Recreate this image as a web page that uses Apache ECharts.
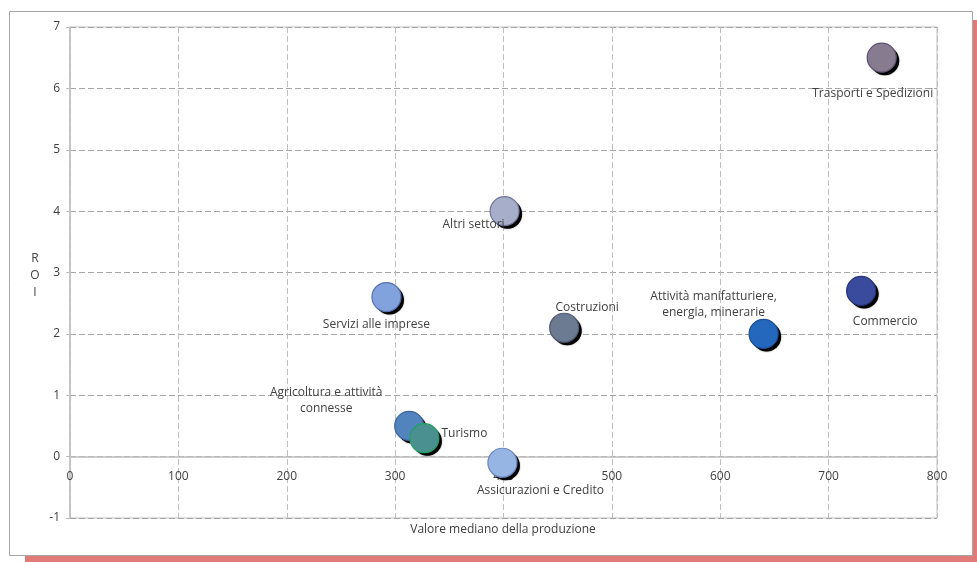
<!DOCTYPE html>
<html><head><meta charset="utf-8">
<script src="https://cdn.jsdelivr.net/npm/echarts@6/dist/echarts.min.js"></script>
<style>html,body{margin:0;padding:0;background:#fff}#c{width:977px;height:562px}</style>
</head><body><div id="c"></div>
<script>
const sectors = ["Trasporti e Spedizioni","Altri settori","Servizi alle imprese","Costruzioni","Attività manifatturiere,\nenergia, minerarie","Commercio","Agricoltura e attività\nconnesse","Turismo","Assicurazioni e Credito"];
const produzione = [749, 401, 292, 456, 640, 730, 313, 327, 399];
const roi = [6.5, 4.0, 2.6, 2.1, 2.0, 2.7, 0.5, 0.3, -0.1];
const xTicks = [0,100,200,300,400,500,600,700,800];
const yTicks = [-1,0,1,2,3,4,5,6,7];

const fills = ["#877b90","#a6aec9","#82a2dd","#6c7a92","#2468bd","#3a4a9c","#5183bd","#4a9090","#96b5e2"];
const strokes = ["#5b5070","#6e7698","#5571b0","#4d5870","#1a4e95","#26337a","#3a6399","#22a060","#6a88bf"];
const labelOffsets = [[-9,36],[-31,13],[-10,28],[23,-20],[-50,-29],[24,31],[-83,-25],[40,-5],[38,28]];

const FONT = "'Open Sans', sans-serif";
const chart = echarts.init(document.getElementById('c'), null, {renderer:'canvas'});
const points = sectors.map((s,i)=>[produzione[i], roi[i]]);
const shadowData = sectors.map((s,i)=>({name:s, value:points[i]}));
const data = sectors.map((s,i)=>({
  name: s,
  value: points[i],
  itemStyle: {color: fills[i], borderColor: strokes[i], borderWidth: 1.2, opacity: 1},
  label: {offset: labelOffsets[i]}
}));
chart.setOption({
  animation:false,
  backgroundColor:'#fff',
  graphic:[
    {type:'rect', shape:{x:25,y:20,width:952,height:542}, style:{fill:'#e07b78'}, z:-10},
    {type:'rect', shape:{x:9.5,y:11.5,width:963,height:544}, style:{fill:'#fff', stroke:'#a6a6a6', lineWidth:1}, z:-9},
    {type:'text', x:35, y:250, style:{text:'R\nO\nI', font:"12px "+FONT, fill:'#404040', lineHeight:17, align:'center'}},
    {type:'text', x:503, y:524, style:{text:'Valore mediano della produzione', font:"12px "+FONT, fill:'#404040', align:'center'}}
  ],
  grid:{left:70, right:40, top:27, bottom:44, show:true, borderColor:'#bfbfbf', borderWidth:1},
  xAxis:{
    type:'value', min:0, max:800, interval:100, offset:-61.375,
    axisLine:{show:true, onZero:false, lineStyle:{color:'#bfbfbf', width:1.5}},
    axisTick:{show:false},
    axisLabel:{color:'#404040', fontSize:12, fontFamily:FONT, margin:14,
      formatter:v=> xTicks.includes(v)? String(v):''},
    splitLine:{show:true, lineStyle:{color:'#bfbfbf', type:[6,3]}}
  },
  yAxis:{
    type:'value', min:-1, max:7, interval:1,
    axisLine:{show:true, onZero:false, lineStyle:{color:'#bfbfbf', width:1.5}},
    axisTick:{show:true, length:4, lineStyle:{color:'#bfbfbf'}},
    axisLabel:{color:'#404040', fontSize:12, fontFamily:FONT, margin:10,
      formatter:v=> yTicks.includes(v)? String(v):''},
    splitLine:{show:true, lineStyle:{color:'#a6a6a6', type:[6,3]}}
  },
  series:[{
    type:'scatter', symbolSize:29, symbolOffset:[3,3], data:shadowData, z:2,
    itemStyle:{color:'#000', opacity:1, shadowColor:'rgba(0,0,0,0.6)', shadowBlur:1.5},
    label:{show:false}, silent:true, emphasis:{disabled:true}
  },{
    type:'scatter', symbolSize:29, data:data, z:3,
    label:{show:true, position:'inside', formatter:p=>p.name, color:'#404040',
      fontSize:12, fontFamily:FONT, lineHeight:16, align:'center'},
    emphasis:{disabled:true}
  }]
});
</script></body></html>
